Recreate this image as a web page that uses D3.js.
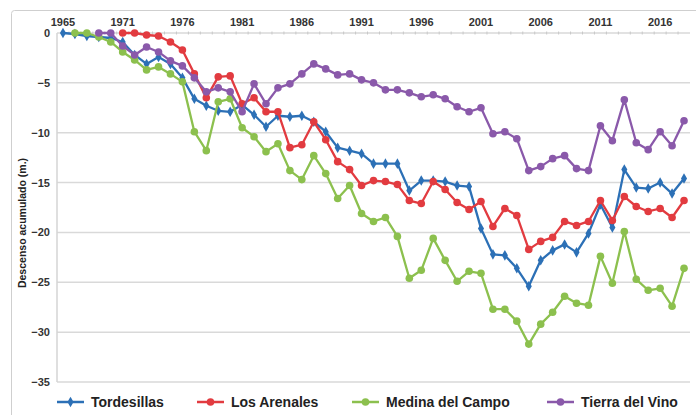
<!DOCTYPE html>
<html>
<head>
<meta charset="utf-8">
<script src="https://cdn.jsdelivr.net/npm/d3@7"></script>
<style>
  body { margin: 0; background: #fff; }
  svg { font-family: "Liberation Sans", Arial, sans-serif; }
</style>
</head>
<body>
<div id="chart"></div>
<script>
// Years on the category axis (1966 is not in the series).
var years = [1965].concat(d3.range(1967, 2019));

// Cumulative drop (m.), one value per year; null before the series starts.
var tordesillas = [0, -0.1, -0.3, -0.4, -0.5, -0.9, -2.2, -3.1, -2.4, -3.1,
  -4.5, -6.6, -7.3, -7.8, -7.9, -7.2, -8.2, -9.4, -8.3, -8.4,
  -8.3, -8.9, -9.9, -11.5, -11.8, -12.1, -13.1, -13.1, -13.1, -15.8,
  -14.8, -14.8, -14.9, -15.3, -15.4, -19.6, -22.2, -22.3, -23.6, -25.4,
  -22.8, -21.8, -21.2, -22.0, -20.1, -17.2, -19.5, -13.7, -15.5, -15.6,
  -15.0, -16.1, -14.6];
var losArenales = [null, null, null, null, null, 0, 0, -0.2, -0.3, -0.9,
  -1.7, -4.1, -6.5, -4.4, -4.3, -7.1, -6.5, -7.9, -7.9, -11.5,
  -11.2, -8.9, -10.7, -12.9, -13.7, -15.3, -14.8, -14.9, -15.2, -16.8,
  -17.1, -14.9, -15.7, -17.0, -17.7, -16.9, -19.4, -17.6, -18.3, -21.7,
  -20.9, -20.5, -18.9, -19.3, -18.9, -16.8, -18.8, -16.4, -17.4, -17.9,
  -17.6, -18.5, -16.8];
var medinaDelCampo = [null, 0, 0, -0.4, -0.9, -1.9, -2.7, -3.7, -3.4, -4.1,
  -4.9, -9.9, -11.8, -6.9, -6.6, -9.5, -10.4, -11.9, -11.1, -13.8,
  -14.7, -12.3, -14.1, -16.6, -15.3, -18.1, -18.9, -18.5, -20.4, -24.6,
  -23.8, -20.6, -22.8, -24.9, -23.9, -24.1, -27.7, -27.7, -28.9, -31.2,
  -29.2, -28.0, -26.4, -27.1, -27.3, -22.4, -25.1, -19.9, -24.7, -25.8,
  -25.6, -27.4, -23.6];
var tierraDelVino = [null, null, null, 0, 0, -1.3, -2.2, -1.4, -1.9, -2.8,
  -3.3, -4.5, -5.9, -5.5, -5.9, -7.9, -5.1, -7.1, -5.5, -5.1,
  -4.1, -3.1, -3.6, -4.2, -4.1, -4.7, -5.0, -5.7, -5.7, -6.0,
  -6.4, -6.2, -6.6, -7.4, -7.9, -7.5, -10.1, -9.9, -10.6, -13.8,
  -13.4, -12.6, -12.3, -13.6, -13.8, -9.3, -10.8, -6.7, -11.0, -11.7,
  -9.9, -11.3, -8.8];

var seriesNames = ["Tordesillas", "Los Arenales", "Medina del Campo", "Tierra del Vino"];
var seriesValues = [tordesillas, losArenales, medinaDelCampo, tierraDelVino];
var seriesColors = ["#2c70b6", "#e23b40", "#8cc04e", "#8a59aa"];
var yTicks = [0, -5, -10, -15, -20, -25, -30, -35];

var width = 696, height = 415;
var plot = { left: 57, right: 690, top: 33, bottom: 382 };

var svg = d3.select("#chart").append("svg")
  .attr("width", width)
  .attr("height", height);

// Outer frame of the chart.
svg.append("rect")
  .attr("x", 11.5).attr("y", 10.5)
  .attr("width", 700).attr("height", 420)
  .attr("rx", 3)
  .attr("fill", "none")
  .attr("stroke", "#cfcfcf");

var xScale = d3.scaleBand()
  .domain(years)
  .range([plot.left, plot.right]);

var yScale = d3.scaleLinear()
  .domain([-35, 0])
  .range([plot.bottom, plot.top]);

function xCenter(year) {
  return xScale(year) + xScale.bandwidth() / 2;
}

// Horizontal gridlines.
svg.append("g")
  .selectAll("line")
  .data(yTicks)
  .join("line")
  .attr("x1", plot.left).attr("x2", plot.right)
  .attr("y1", d => yScale(d)).attr("y2", d => yScale(d))
  .attr("stroke", "#d9d9d9")
  .attr("stroke-width", 1.5);

// Left axis line.
svg.append("line")
  .attr("x1", plot.left).attr("x2", plot.left)
  .attr("y1", plot.top).attr("y2", plot.bottom)
  .attr("stroke", "#d4d4d4")
  .attr("stroke-width", 1.5);

// Small ticks between categories along the 0 line.
svg.append("g")
  .selectAll("line")
  .data(years.slice(1))
  .join("line")
  .attr("x1", d => xScale(d)).attr("x2", d => xScale(d))
  .attr("y1", plot.top - 1.5).attr("y2", plot.top + 1.5)
  .attr("stroke", "#c8c8c8");

// Y axis labels.
svg.append("g")
  .attr("transform", "translate(" + (plot.left - 7) + ",0)")
  .call(d3.axisLeft(yScale).tickValues(yTicks).tickSize(0).tickPadding(0))
  .call(g => g.select(".domain").remove())
  .selectAll("text")
  .attr("fill", "#333")
  .style("font-size", "11px")
  .style("font-weight", "bold");

// X axis labels on top, every fifth category.
svg.append("g")
  .attr("transform", "translate(0," + 26 + ")")
  .call(d3.axisTop(xScale).tickValues(years.filter((d, i) => i % 5 == 0)).tickSize(0).tickPadding(0))
  .call(g => g.select(".domain").remove())
  .selectAll("text")
  .attr("fill", "#333")
  .style("font-size", "11px")
  .style("font-weight", "bold");

// Y axis title.
svg.append("text")
  .attr("transform", "translate(26," + 223 + ") rotate(-90)")
  .style("text-anchor", "middle")
  .style("font-size", "10.5px")
  .style("font-weight", "bold")
  .attr("fill", "#222")
  .text("Descenso acumulado (m.)");

var line = d3.line()
  .defined(d => d.value != null)
  .x(d => xCenter(d.year))
  .y(d => yScale(d.value));

var series = seriesNames.map(function(name, k) {
  return {
    name: name,
    color: seriesColors[k],
    points: seriesValues[k].map((v, i) => ({ year: years[i], value: v }))
  };
});

var diamond = d3.symbol().type(d3.symbolDiamond).size(32);

series.forEach(function(s, k) {
  var g = svg.append("g").attr("class", "series");
  g.append("path")
    .attr("d", line(s.points))
    .attr("fill", "none")
    .attr("stroke", s.color)
    .attr("stroke-width", 2.3)
    .attr("stroke-linejoin", "round");

  var pts = s.points.filter(d => d.value != null);
  if (k == 0) {
    g.selectAll("path.marker")
      .data(pts)
      .join("path")
      .attr("class", "marker")
      .attr("d", diamond)
      .attr("transform", d => "translate(" + xCenter(d.year) + "," + yScale(d.value) + ")")
      .attr("fill", s.color);
  } else {
    g.selectAll("circle")
      .data(pts)
      .join("circle")
      .attr("cx", d => xCenter(d.year))
      .attr("cy", d => yScale(d.value))
      .attr("r", 3.8)
      .attr("fill", s.color);
  }
});

// Legend.
var legendX = [57, 197, 352, 547];
var legend = svg.append("g").attr("class", "legend");
series.forEach(function(s, k) {
  var item = legend.append("g")
    .attr("transform", "translate(" + legendX[k] + ",402)");
  item.append("line")
    .attr("x1", 0).attr("x2", 27)
    .attr("stroke", s.color)
    .attr("stroke-width", 2.5);
  if (k == 0) {
    item.append("path")
      .attr("d", diamond)
      .attr("transform", "translate(13.5,0)")
      .attr("fill", s.color);
  } else {
    item.append("circle")
      .attr("cx", 13.5).attr("r", 3.8)
      .attr("fill", s.color);
  }
  item.append("text")
    .attr("x", 34)
    .attr("dy", "0.35em")
    .style("font-size", "14px")
    .style("font-weight", "bold")
    .attr("fill", "#222")
    .text(s.name);
});
</script>
</body>
</html>
